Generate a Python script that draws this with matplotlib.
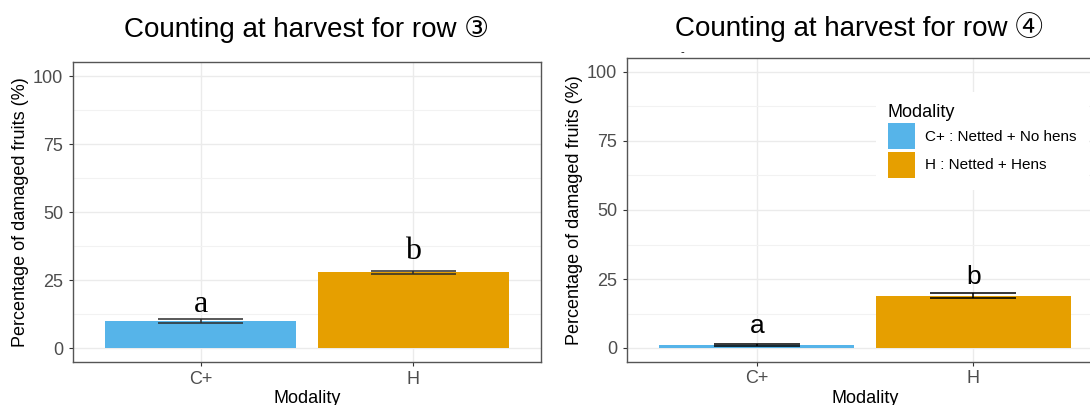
import matplotlib
matplotlib.use("Agg")
import matplotlib.pyplot as plt
from matplotlib.patches import Patch
from matplotlib.ticker import MultipleLocator

plt.rcParams['font.family'] = ['Liberation Sans', 'DejaVu Sans', 'Noto Sans CJK SC']

# data
modalities = ['C+', 'H']
colors = ['#56B4E9', '#E69F00']
legend_labels = ['C+ : Netted + No hens', 'H : Netted + Hens']

row3_mean = [10.0, 27.9]
row3_se = [0.65, 0.65]
row3_letters = ['a', 'b']
row3_letter_y = [13.4, 32.8]

row4_mean = [1.0, 18.9]
row4_se = [0.3, 0.9]
row4_letters = ['a', 'b']
row4_letter_y = [5.5, 23.2]

W, H = 1090, 405
fig = plt.figure(figsize=(W / 100, H / 100), dpi=100)
fig.patch.set_facecolor('white')


def px_axes(x0, x1, y0, y1):
    # pixel box (top-left origin) -> figure fraction
    return fig.add_axes([x0 / W, 1 - y1 / H, (x1 - x0) / W, (y1 - y0) / H])


def style(ax):
    ax.set_xlim(0.4, 2.6)
    ax.set_ylim(-5, 105)
    ax.set_xticks([1, 2])
    ax.set_xticklabels(modalities)
    ax.yaxis.set_major_locator(MultipleLocator(25))
    ax.yaxis.set_minor_locator(MultipleLocator(12.5))
    ax.grid(which='major', color='#EBEBEB', lw=1.0)
    ax.grid(which='minor', axis='y', color='#F2F2F2', lw=0.8)
    ax.set_axisbelow(True)
    for s in ax.spines.values():
        s.set_color('#555555')
        s.set_linewidth(1.0)
    ax.tick_params(which='major', length=2.75, width=0.8, color='#333333',
                   labelsize=13, labelcolor='#4D4D4D')
    ax.tick_params(axis='y', pad=4.4)
    ax.tick_params(axis='x', pad=3.5)
    ax.tick_params(which='minor', length=0)
    ax.set_xlabel('Modality', fontsize=13, labelpad=1.5)
    ax.set_ylabel('Percentage of damaged fruits (%)', fontsize=13, labelpad=3)


def draw(ax, means, ses, letters, letter_y, ecolor, lfont, lsize):
    x = [1, 2]
    ax.bar(x, means, width=0.9, color=colors, edgecolor='none', zorder=2)
    lo = [m - s for m, s in zip(means, ses)]
    hi = [m + s for m, s in zip(means, ses)]
    for xi, l, h in zip(x, lo, hi):
        ax.hlines([l, h], xi - 0.2, xi + 0.2, color=ecolor, lw=1.1, zorder=3)
        ax.vlines(xi, l, h, color=ecolor, lw=1.1, zorder=3)
    for xi, t, ty in zip(x, letters, letter_y):
        ax.text(xi, ty, t, ha='center', va='baseline', fontsize=lsize,
                fontfamily=lfont, zorder=4)


ax1 = px_axes(73, 541, 62.4, 362)
style(ax1)
draw(ax1, row3_mean, row3_se, row3_letters, row3_letter_y, '#2b2b2b',
     'Liberation Serif', 23)
ax1.set_title('Counting at harvest for row \u2462', fontsize=20, pad=18,
              fontfamily=['Liberation Sans', 'DejaVu Sans', 'Noto Sans CJK SC'])

ax2 = px_axes(627, 1103, 58.2, 361.8)
style(ax2)
draw(ax2, row4_mean, row4_se, row4_letters, row4_letter_y, 'black',
     'Liberation Sans', 19)
ax2.set_title('Counting at harvest for row \u2463', fontsize=20, pad=16, x=0.487,
              fontfamily=['Liberation Sans', 'DejaVu Serif', 'Noto Sans CJK SC'])

handles = [Patch(facecolor=c, edgecolor='none') for c in colors]
leg = ax2.legend(handles, legend_labels, title='Modality', loc='upper left',
                 bbox_to_anchor=(868 / W, 1 - 84 / H), bbox_transform=fig.transFigure,
                 frameon=True, fancybox=False, facecolor='white', edgecolor='none',
                 framealpha=1, fontsize=11, title_fontsize=13, handlelength=1.75,
                 handleheight=2.25, labelspacing=0.15, handletextpad=0.7,
                 borderpad=0.8, alignment='left')

fig.text(682 / W, 1 - 52 / H, '-', fontsize=8, ha='center', va='center')

fig.savefig('out.png', dpi=100)
